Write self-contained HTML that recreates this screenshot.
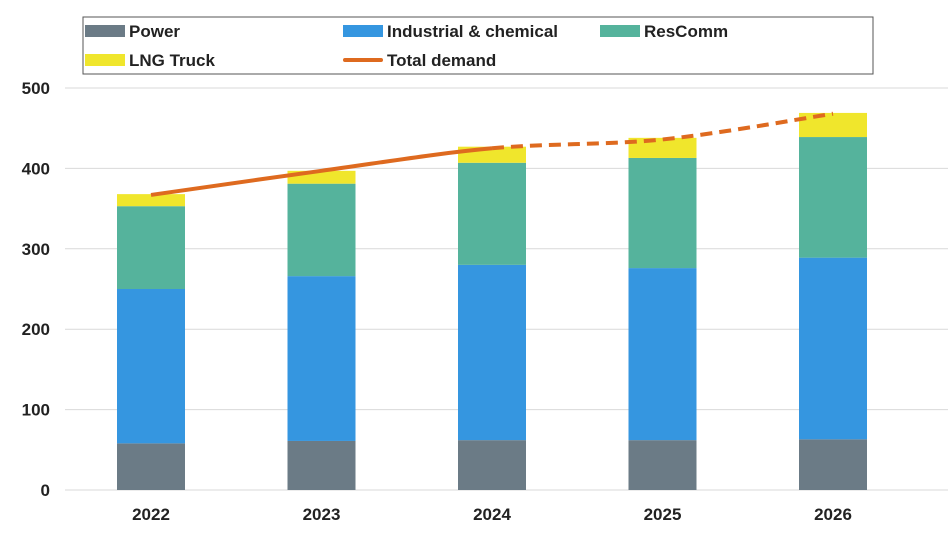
<!DOCTYPE html>
<html><head><meta charset="utf-8"><style>
body{margin:0;background:#fff;font-family:"Liberation Sans",sans-serif}
svg text{font-family:"Liberation Sans",sans-serif;font-weight:bold;fill:#222}
</style></head><body>
<svg id="c" width="951" height="546"></svg>
<script>
const years=["2022","2023","2024","2025","2026"];
const power=[58,61,62,62,63];
const industrial=[192,205,218,214,226];
const rescomm=[103,115,127,137,150];
const lngTruck=[15,16,20,25,30];
const total=[367,397,425,436,468];
const yTicks=[0,100,200,300,400,500];
const svg=document.getElementById('c');const NS="http://www.w3.org/2000/svg";
function y(v){return 490-v*0.804;}
function x(i){return 151+i*170.5;}
function mk(t,a,p){const e=document.createElementNS(NS,t);for(const k in a)e.setAttribute(k,a[k]);(p||svg).appendChild(e);return e;}
yTicks.forEach(t=>{
 const l=mk('line',{x1:65,x2:948,y1:y(t),y2:y(t),stroke:'#d9d9d9','stroke-width':1});
 
 
 const tx=mk('text',{x:50,y:y(t)+6,'text-anchor':'end','font-size':17});tx.textContent=t;
 
 
});
const series=[[power,'#6b7b86','power'],[industrial,'#3596e0','industrial'],[rescomm,'#55b39c','rescomm'],[lngTruck,'#f0e62c','lng-truck']];
years.forEach((yr,i)=>{
 let base=0;
 series.forEach(([arr,col,nm])=>{
  const r=mk('rect',{x:x(i)-34,width:68,y:y(base+arr[i]),height:arr[i]*0.804,fill:col});
  
  
  base+=arr[i];
 });
 const tx=mk('text',{x:x(i),y:520,'text-anchor':'middle','font-size':17});tx.textContent=yr;
 
 
});
function P(i){const j=Math.max(0,Math.min(total.length-1,i));return [x(j),y(total[j])];}
function seg(a,b){let d='M'+P(a).join(',');for(let i=a;i<b;i++){const p0=P(i-1),p1=P(i),p2=P(i+1),p3=P(i+2);const t=6;
 const c1=[p1[0]+(p2[0]-p0[0])/t,p1[1]+(p2[1]-p0[1])/t],c2=[p2[0]-(p3[0]-p1[0])/t,p2[1]-(p3[1]-p1[1])/t];
 d+=' C'+c1.join(',')+' '+c2.join(',')+' '+p2.join(',');}return d;}
const l1=mk('path',{d:seg(0,2),fill:'none',stroke:'#de6a1f','stroke-width':4});


const l2=mk('path',{d:seg(2,4),fill:'none',stroke:'#de6a1f','stroke-width':4,'stroke-dasharray':'12,7'});


const lg=mk('g',{});


mk('rect',{x:83,y:17,width:790,height:57,fill:'#fff',stroke:'#555','stroke-width':1},lg);
const items=[['Power','#6b7b86',85,31,0],['Industrial & chemical','#3596e0',343,31,0],['ResComm','#55b39c',600,31,0],['LNG Truck','#f0e62c',85,60,0],['Total demand','#de6a1f',343,60,1]];
items.forEach(([t,c,lx,ly,ln])=>{
 const g=mk('g',{},lg);
 
 
 if(ln)mk('rect',{x:lx,y:ly-2,width:40,height:4,rx:2,fill:c},g);else mk('rect',{x:lx,y:ly-6,width:40,height:12,fill:c},g);
 const tx=mk('text',{x:lx+44,y:ly+6,'font-size':17},g);tx.textContent=t;
});
</script>
</body></html>
